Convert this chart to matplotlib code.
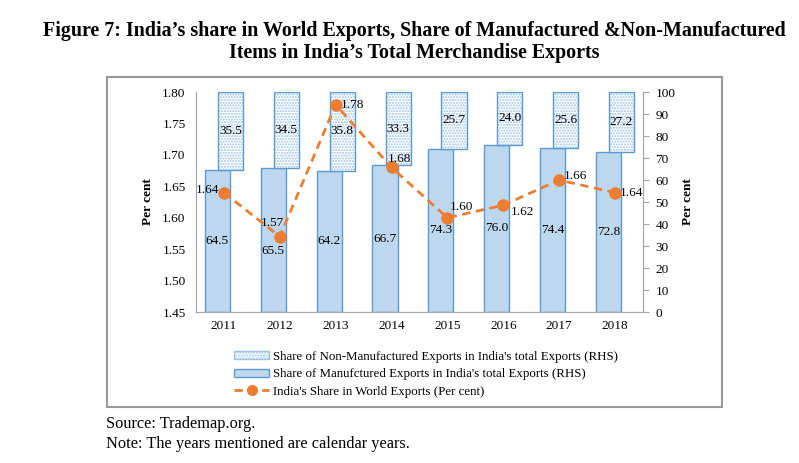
import matplotlib.pyplot as plt
from matplotlib.patches import Patch, Rectangle
from matplotlib.lines import Line2D

plt.rcParams['font.family'] = ['Liberation Serif', 'DejaVu Serif']

# data
years = ['2011', '2012', '2013', '2014', '2015', '2016', '2017', '2018']
manuf_share = [64.5, 65.5, 64.2, 66.7, 74.3, 76.0, 74.4, 72.8]
non_manuf_share = [35.5, 34.5, 35.8, 33.3, 25.7, 24.0, 25.6, 27.2]
world_share = [1.64, 1.57, 1.78, 1.68, 1.60, 1.62, 1.66, 1.64]

# label offsets (points) for the line labels
line_label_offsets = [(-12, 2), (-5, 10), (12, 0), (6, 6), (10, 8), (14, -5), (12, 3), (12, 0)]

BLUE_FILL = '#BDD7EE'
BLUE_EDGE = '#5B9BD5'
ORANGE = '#ED7D31'
GRAY = '#A6A6A6'
FS = 9.5

fig = plt.figure(figsize=(7.99, 4.63), dpi=100)

# outer frame around the chart
fig.patches.append(Rectangle((0.134, 0.121), 0.770, 0.713, transform=fig.transFigure,
                             fill=False, edgecolor='#999999', linewidth=1.5))

ax = fig.add_axes([0.2453, 0.326, 0.5594, 0.4752])
ax2 = ax.twinx()

x = list(range(len(years)))
w = 0.45
off = 0.117

# bars on the right hand axis
xm = [i - off for i in x]
xn = [i + off for i in x]
ax2.bar(xm, manuf_share, width=w, color=BLUE_FILL, edgecolor=BLUE_EDGE, linewidth=1.0)
ax2.bar(xn, non_manuf_share, width=w, bottom=manuf_share, color='white',
        edgecolor='#9DC3E6', hatch='......', linewidth=0)
ax2.bar(xn, non_manuf_share, width=w, bottom=manuf_share, fill=False,
        edgecolor=BLUE_EDGE, linewidth=1.0)

for i in x:
    ym = manuf_share[i] / 2
    if i == 1:
        ym -= 5
    ax2.text(xm[i], ym, f'{manuf_share[i]:.1f}', ha='center', va='center', fontsize=FS)
    yn = manuf_share[i] + non_manuf_share[i] / 2
    ax2.text(xn[i], yn, f'{non_manuf_share[i]:.1f}', ha='center', va='center', fontsize=FS)

# line on the left hand axis, drawn above bars
ax.set_zorder(ax2.get_zorder() + 1)
ax.patch.set_visible(False)
ax.plot(x, world_share, color=ORANGE, linestyle=(0, (3, 2)), linewidth=2,
        marker='o', markersize=8)
for i in x:
    ax.annotate(f'{world_share[i]:.2f}', (x[i], world_share[i]),
                xytext=line_label_offsets[i], textcoords='offset points',
                ha='center', va='center', fontsize=FS)

ax.set_xlim(-0.5, len(years) - 0.5)
ax.set_ylim(1.45, 1.80)
ax.set_yticks([1.45, 1.50, 1.55, 1.60, 1.65, 1.70, 1.75, 1.80])
ax.set_yticklabels([f'{v:.2f}' for v in ax.get_yticks()])
ax.set_xticks(x)
ax.set_xticklabels(years)
ax2.set_ylim(0, 100)
ax2.set_yticks(range(0, 101, 10))

for a in (ax, ax2):
    for s in a.spines.values():
        s.set_color(GRAY)
    a.spines['top'].set_visible(False)
ax.tick_params(axis='y', length=0, labelsize=FS, pad=7.5)
ax.tick_params(axis='x', length=0, labelsize=FS, pad=6)
ax2.tick_params(axis='y', length=4, color=GRAY, labelsize=FS, pad=5)

ax.set_ylabel('Per cent', fontweight='bold', fontsize=FS, labelpad=6)
ax2.set_ylabel('Per cent', fontweight='bold', fontsize=FS, labelpad=5)

handles = [
    Patch(facecolor='white', edgecolor='#9DC3E6', hatch='......', linewidth=1,
          label="Share of Non-Manufactured Exports in India's total Exports (RHS)"),
    Patch(facecolor=BLUE_FILL, edgecolor=BLUE_EDGE, linewidth=1,
          label="Share of Manufctured Exports in India's total Exports (RHS)"),
    Line2D([], [], color=ORANGE, linestyle=(0, (3, 2)), linewidth=2, marker='o',
           markersize=7, label="India's Share in World Exports (Per cent)"),
]
fig.legend(handles=handles, loc='upper left', bbox_to_anchor=(0.285, 0.256),
           frameon=False, fontsize=9.3, handlelength=2.7, handleheight=0.6,
           labelspacing=0.42, handletextpad=0.3, borderpad=0)

fig.text(0.518, 0.933, 'Figure 7: India\u2019s share in World Exports, Share of Manufactured &Non-Manufactured',
         ha='center', va='center', fontsize=14.4, fontweight='bold')
fig.text(0.518, 0.885, 'Items in India\u2019s Total Merchandise Exports',
         ha='center', va='center', fontsize=14.4, fontweight='bold')

fig.text(0.133, 0.084, 'Source: Trademap.org.', ha='left', va='center', fontsize=11.8)
fig.text(0.133, 0.042, 'Note: The years mentioned are calendar years.', ha='left', va='center', fontsize=11.8)

fig.savefig('out.png', dpi=100)
